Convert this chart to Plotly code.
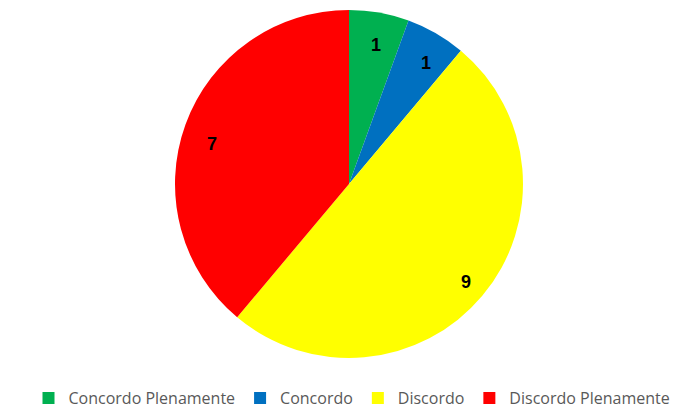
import math
import plotly.graph_objects as go

categories = ["Concordo Plenamente", "Concordo", "Discordo", "Discordo Plenamente"]
values = [1, 1, 9, 7]
colors = ["#00B050", "#0070C0", "#FFFF00", "#FF0000"]

W, H = 693, 412
cx, cy, R = 341, 176, 174  # pie centre and radius in pixels

fig = go.Figure(go.Pie(
    labels=categories, values=values, sort=False, direction="clockwise", rotation=0,
    marker=dict(colors=colors, line=dict(width=0)),
    textinfo="none", hoverinfo="label+value",
    domain=dict(x=[(cx - R) / W, (cx + R) / W],
                y=[max(0, 1 - (cy + R) / H), min(1, 1 - (cy - R) / H)]),
))

total = sum(values)
cum = 0
for v in values:
    a = math.radians((cum + v / 2) / total * 360)
    cum += v
    fig.add_annotation(
        x=(cx + 0.88 * R * math.sin(a)) / W,
        y=1 - (cy - 0.88 * R * math.cos(a)) / H,
        xref="paper", yref="paper", text=f"<b>{v}</b>", showarrow=False,
        font=dict(family="Liberation Sans", size=18, color="black"),
    )

fig.update_layout(
    width=W, height=H, margin=dict(l=0, r=0, t=0, b=0),
    paper_bgcolor="white", plot_bgcolor="white",
    showlegend=True,
    legend=dict(orientation="h", x=344 / W, xanchor="center", y=1 - 390 / H, yanchor="middle",
                font=dict(family="Open Sans", size=16, color="#595959"),
                itemwidth=30, traceorder="normal", bgcolor="rgba(0,0,0,0)"),
)
fig.write_html("out.html")
